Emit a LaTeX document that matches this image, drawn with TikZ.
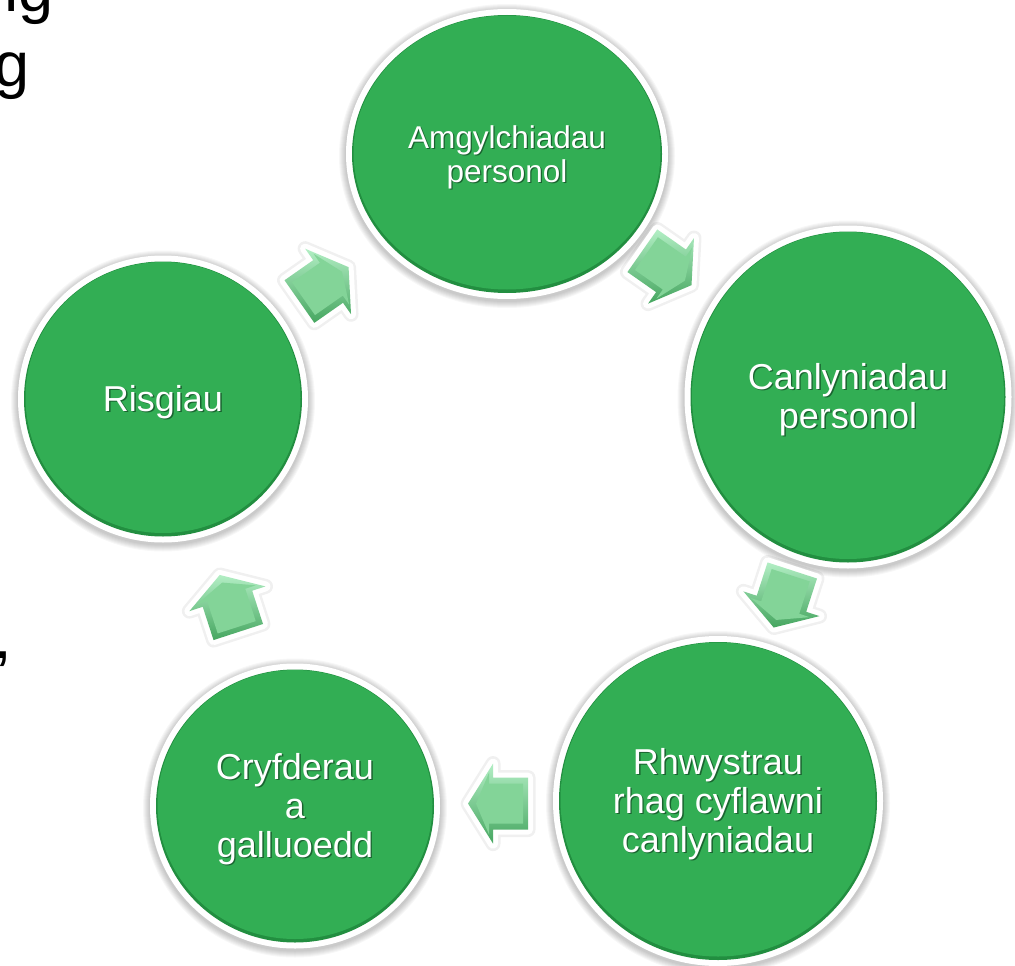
\documentclass[tikz,border=0pt]{standalone}
\usepackage{fontspec}
\setmainfont{Liberation Sans}
\usetikzlibrary{calc,shapes.geometric}
\definecolor{gfill}{RGB}{50,174,84}
\definecolor{grim}{RGB}{34,142,64}
\definecolor{gshadow}{RGB}{26,100,48}
\definecolor{aflat}{RGB}{131,212,152}
\definecolor{alight}{RGB}{178,238,196}
\definecolor{adark}{RGB}{70,166,96}

\newcommand\mytab[1]{\begin{tabular}{@{}c@{}}#1\end{tabular}}
\newcommand\shtext[1]{\makebox[0pt][l]{\hspace*{1.3pt}\raisebox{-1.3pt}{\textcolor{gshadow}{\mytab{#1}}}}\mytab{#1}}

\tikzset{
  disc/.style={ellipse, inner sep=0pt, text=white},
  frag/.style={anchor=base east, inner sep=0pt, font=\fontsize{63}{75}\selectfont, text=black},
}

% name, x, y, rx, ry, font, text
\newcommand\roundel[7]{%
  \foreach \k in {1,...,7} {\fill[black, opacity=0.03] (#2,#3+2) ellipse [x radius=#4+\k, y radius=#5+\k];}
  \fill[white] (#2,#3) ellipse [x radius=#4, y radius=#5];
  \fill[grim] (#2,#3) ellipse [x radius=#4-6, y radius=#5-6];
  \fill[gfill] (#2,#3-1.5) ellipse [x radius=#4-7.5, y radius=#5-8];
  \node[disc, minimum width={2*(#4-6)-3}, minimum height={2*(#5-6)-4}, font={#6}] (#1) at (#2,#3+5) {\shtext{#7}};
}

% position, angle
\newcommand\blockarr[2]{%
  \begin{scope}[shift={#1}, rotate=#2]
    \draw[black, opacity=0.06, line width=15, line join=round] (-30,-26) -- (5,-26) -- (5,-40) -- (30,0) -- (5,40) -- (5,26) -- (-30,26) -- cycle;
    \draw[white, fill=white, line width=10, line join=round] (-30,-26) -- (5,-26) -- (5,-40) -- (30,0) -- (5,40) -- (5,26) -- (-30,26) -- cycle;
    \shade[top color=alight, bottom color=adark] (-30,-26) -- (5,-26) -- (5,-40) -- (30,0) -- (5,40) -- (5,26) -- (-30,26) -- cycle;
    \fill[aflat] (-25,-20) -- (9,-20) -- (9,-31) -- (22,0) -- (9,31) -- (9,20) -- (-25,20) -- cycle;
  \end{scope}}

\begin{document}
\begin{tikzpicture}[x=1pt, y=-1pt]
\useasboundingbox (0,0) rectangle (1015,966);
\clip (0,0) rectangle (1015,966);
\fill[white] (0,0) rectangle (1015,966);

% cropped text fragments at the left edge
\node[frag] (frag1) at (54,12) {ng};
\node[frag] (frag2) at (30,87) {g};
\node[frag] (frag3) at (12,658) {,};

\roundel{amg}{507}{154}{161}{145}{\fontsize{31.5}{34}\selectfont}{Amgylchiadau\\personol}
\roundel{can}{848}{397}{163.5}{171.5}{\fontsize{36}{39}\selectfont}{Canlyniadau\\personol}
\roundel{rhw}{718}{801}{165}{165}{\fontsize{36}{39}\selectfont}{Rhwystrau\\rhag cyflawni\\canlyniadau}
\roundel{cry}{295}{806}{145}{142.5}{\fontsize{36}{39}\selectfont}{Cryfderau\\a\\galluoedd}
\roundel{ris}{163}{399}{145}{143.5}{\fontsize{36}{39}\selectfont}{Risgiau}

\blockarr{($(ris)!0.468!(amg)+(0,-5)$)}{35}
\blockarr{($(amg)!0.469!(can)+(0,-5)$)}{-35}
\blockarr{($(can)!0.5!(rhw)+(0,-5)$)}{-108}
\blockarr{($(rhw)!0.52!(cry)+(0,-5)$)}{180}
\blockarr{($(cry)!0.5!(ris)+(0,-4)$)}{108}
\end{tikzpicture}
\end{document}
